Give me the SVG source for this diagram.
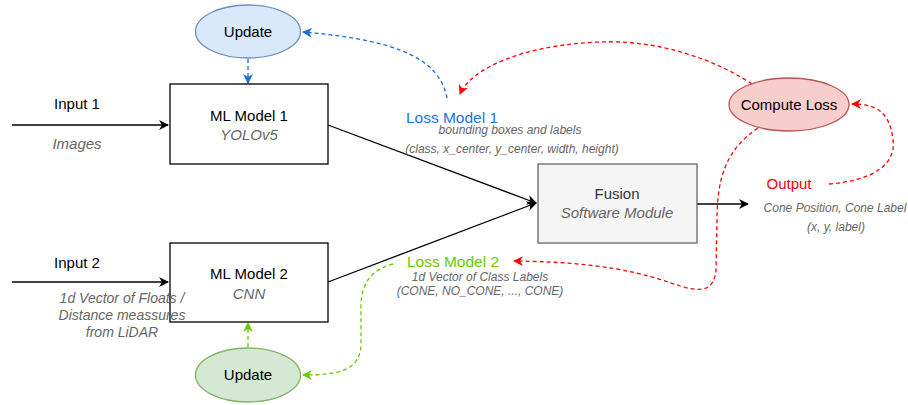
<svg xmlns="http://www.w3.org/2000/svg" width="908" height="405" viewBox="0 0 908 405">
  <style>
    text { font-family: "Liberation Sans", Arial, sans-serif; }
    .lbl { font-size: 15px; fill: #000; text-anchor: middle; }
    .sub { font-size: 15px; fill: #666; font-style: italic; text-anchor: middle; }
    .note { font-size: 12px; fill: #666; font-style: italic; text-anchor: middle; }
    .note14 { font-size: 14px; fill: #666; font-style: italic; text-anchor: middle; }
    .box { fill: #fff; stroke: #000; stroke-width: 1.3; }
    .fusion { fill: #f5f5f5; stroke: #666; stroke-width: 1.3; }
    .edge { fill: none; stroke: #000; stroke-width: 1.3; }
    .dash { fill: none; stroke-width: 1.3; stroke-dasharray: 4 3; }
  </style>
  <defs>
    <marker id="arrBlack" viewBox="0 0 10 10" refX="9" refY="5" markerWidth="10" markerHeight="10" markerUnits="userSpaceOnUse" orient="auto">
      <path d="M0,0 L10,5 L0,10 L3,5 Z" fill="#000"/>
    </marker>
    <marker id="arrBlue" viewBox="0 0 10 10" refX="9" refY="5" markerWidth="10" markerHeight="10" markerUnits="userSpaceOnUse" orient="auto">
      <path d="M0,0 L10,5 L0,10 L3,5 Z" fill="#1a6fd8"/>
    </marker>
    <marker id="arrRed" viewBox="0 0 10 10" refX="9" refY="5" markerWidth="10" markerHeight="10" markerUnits="userSpaceOnUse" orient="auto">
      <path d="M0,0 L10,5 L0,10 L3,5 Z" fill="#ff0000"/>
    </marker>
    <marker id="arrGreen" viewBox="0 0 10 10" refX="9" refY="5" markerWidth="10" markerHeight="10" markerUnits="userSpaceOnUse" orient="auto">
      <path d="M0,0 L10,5 L0,10 L3,5 Z" fill="#66cc00"/>
    </marker>
  </defs>

  <!-- connectors -->
  <g id="connectors">
    <path class="edge" d="M12,125 L168,125" marker-end="url(#arrBlack)"/>
    <path class="edge" d="M12,282 L168,282" marker-end="url(#arrBlack)"/>
    <path class="edge" d="M328,125 L536,203" marker-end="url(#arrBlack)"/>
    <path class="edge" d="M328,282 L536,203" marker-end="url(#arrBlack)"/>
    <path class="edge" d="M697,204 L748,204" marker-end="url(#arrBlack)"/>

    <!-- update arrows into the models -->
    <path class="dash" stroke="#1a6fd8" d="M248,59 L248,83" marker-end="url(#arrBlue)"/>
    <path class="dash" stroke="#66cc00" d="M248,347 L248,323" marker-end="url(#arrGreen)"/>

    <!-- loss feedback -->
    <path class="dash" stroke="#1a6fd8" d="M447,98 C440,60 400,40 303,32" marker-end="url(#arrBlue)"/>
    <path class="dash" stroke="#ff0000" d="M752,84 C700,50 640,40 600,42 C520,45 470,70 460,94" marker-end="url(#arrRed)"/>
    <path class="dash" stroke="#ff0000" d="M829,184 C880,180 896,160 893,140 C890,115 880,104 852,104" marker-end="url(#arrRed)"/>
    <path class="dash" stroke="#ff0000" d="M758,128 C725,150 717,180 717,220 L716,270 C714,292 700,292 680,286 C640,272 600,262 514,261" marker-end="url(#arrRed)"/>
    <path class="dash" stroke="#66cc00" d="M393,264 C370,270 360,285 361,310 L361,345 C360,370 340,375 303,375" marker-end="url(#arrGreen)"/>
  </g>

  <g id="input1">
    <text class="lbl" x="77" y="109">Input 1</text>
    <text class="sub" x="77" y="149">Images</text>
  </g>

  <g id="update1">
    <ellipse cx="248" cy="31.5" rx="52.5" ry="26.5" fill="#dae8fc" stroke="#6c8ebf" stroke-width="1.3"/>
    <text class="lbl" x="248" y="37">Update</text>
  </g>

  <g id="model1">
    <rect class="box" x="170" y="84" width="158" height="80"/>
    <text class="lbl" x="249" y="121">ML Model 1</text>
    <text class="sub" x="249" y="140">YOLOv5</text>
  </g>

  <g id="model2">
    <rect class="box" x="170" y="243" width="158" height="79"/>
    <text class="lbl" x="249" y="279">ML Model 2</text>
    <text class="sub" x="249" y="299">CNN</text>
  </g>

  <!-- input 2 label sits over the model box edge -->
  <g id="input2">
    <text class="lbl" x="77" y="268">Input 2</text>
    <text class="note14" x="122" y="303">1d Vector of Floats /</text>
    <text class="note14" x="122" y="320">Distance meassures</text>
    <text class="note14" x="122" y="337">from LiDAR</text>
  </g>

  <g id="update2">
    <ellipse cx="248" cy="375" rx="52.5" ry="27" fill="#d5e8d4" stroke="#82b366" stroke-width="1.3"/>
    <text class="lbl" x="248" y="380">Update</text>
  </g>

  <g id="fusion">
    <rect class="fusion" x="538" y="164" width="159" height="79"/>
    <text class="lbl" x="617" y="199" style="fill:#333">Fusion</text>
    <text class="sub" x="617" y="218">Software Module</text>
  </g>

  <g id="loss1">
    <text class="lbl" x="452" y="123" style="fill:#1a73e8;font-size:15.5px">Loss Model 1</text>
    <text class="note" x="510" y="134">bounding boxes and labels</text>
    <text class="note" x="512" y="153">(class, x_center, y_center, width, height)</text>
  </g>

  <g id="loss2">
    <text class="lbl" x="453" y="267" style="fill:#66cc00;font-size:15.5px">Loss Model 2</text>
    <text class="note" x="480" y="281">1d Vector of Class Labels</text>
    <text class="note" x="480" y="295">(CONE, NO_CONE, ..., CONE)</text>
  </g>

  <g id="computeLoss">
    <ellipse cx="789" cy="104.5" rx="60" ry="26.5" fill="#f8cecc" stroke="#b85450" stroke-width="1.3"/>
    <text class="lbl" x="789" y="110">Compute Loss</text>
  </g>

  <g id="output">
    <text class="lbl" x="789" y="189" style="fill:#ff0000">Output</text>
    <text class="note" x="835" y="212">Cone Position, Cone Label</text>
    <text class="note" x="836" y="231">(x, y, label)</text>
  </g>
</svg>
